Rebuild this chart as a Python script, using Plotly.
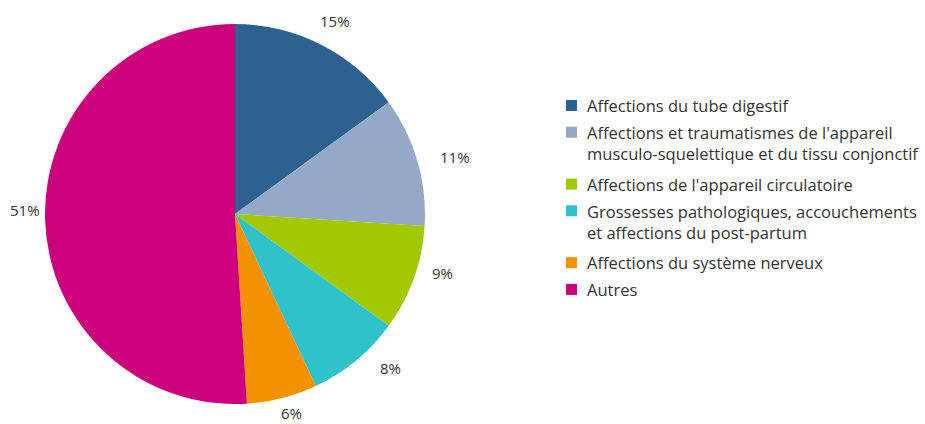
import math
import plotly.graph_objects as go

# Share of cases by diagnostic group
categories = [
    "Affections du tube digestif",
    "Affections et traumatismes de l'appareil<br>musculo-squelettique et du tissu conjonctif",
    "Affections de l'appareil circulatoire",
    "Grossesses pathologiques, accouchements<br>et affections du post-partum",
    "Affections du système nerveux",
    "Autres",
]
shares = [15, 11, 9, 8, 6, 51]
pct_labels = ["15%", "11%", "9%", "8%", "6%", "51%"]
colors = ["#2D6290", "#94A9C7", "#A2C800", "#30C2CA", "#F29200", "#CC007A"]

W, H = 925, 424
FONT = "Open Sans"
TEXT_COLOR = "#333333"

# pie placement in pixels
cx, cy, r = 235, 214, 190

# percentage label placement: distance from centre and small angular turn (deg)
label_dist = [217, 227, 216, 219, 207, 210]
label_turn = [0.3, 1.7, -4.0, -5.6, -1.5, 2.9]


def px_to_paper(x, y):
    return x / W, 1 - y / H


fig = go.Figure(
    go.Pie(
        labels=[c.replace("<br>", " ") for c in categories],
        values=shares,
        sort=False,
        direction="clockwise",
        rotation=0,
        textinfo="none",
        hoverinfo="label+percent",
        marker=dict(colors=colors, line=dict(width=0)),
        domain=dict(x=[(cx - r) / W, (cx + r) / W],
                    y=[1 - (cy + r) / H, 1 - (cy - r) / H]),
        showlegend=False,
    )
)

annotations = []
shapes = []

# percentage labels outside each slice, around its mid-angle
total = sum(shares)
cum = 0
for v, txt, d, t in zip(shares, pct_labels, label_dist, label_turn):
    mid = math.radians((cum + v / 2) / total * 360 + t)
    cum += v
    x, y = px_to_paper(cx + d * math.sin(mid), cy - d * math.cos(mid))
    annotations.append(dict(
        x=x, y=y, xref="paper", yref="paper",
        text=txt, showarrow=False, xanchor="center", yanchor="middle",
        font=dict(family=FONT, size=15, color=TEXT_COLOR),
    ))

# legend: colour square + label, entries stacked down the right side
LEG_FS = 16.5
sq_left, sq_size = 566, 11
text_left = 585
row_y = 105.5          # centre of the first square
row_step = 26.7        # step for a one-line entry
extra_line = 25.2      # additional step per wrapped line
line_h = 1.3 * LEG_FS

for cat, col in zip(categories, colors):
    x0, y0 = px_to_paper(sq_left, row_y - sq_size / 2)
    x1, y1 = px_to_paper(sq_left + sq_size, row_y + sq_size / 2)
    shapes.append(dict(type="rect", xref="paper", yref="paper",
                       x0=x0, x1=x1, y0=y1, y1=y0,
                       fillcolor=col, line=dict(width=0)))
    tx, ty = px_to_paper(text_left, row_y - line_h / 2 - 2.5)
    annotations.append(dict(
        x=tx, y=ty, xref="paper", yref="paper",
        text=cat, showarrow=False, xanchor="left", yanchor="top", align="left",
        font=dict(family=FONT, size=LEG_FS, color=TEXT_COLOR),
    ))
    n_lines = cat.count("<br>") + 1
    row_y += row_step + (n_lines - 1) * extra_line

fig.update_layout(
    width=W, height=H,
    margin=dict(l=0, r=0, t=0, b=0),
    paper_bgcolor="white",
    plot_bgcolor="white",
    font=dict(family=FONT, size=15, color=TEXT_COLOR),
    showlegend=False,
    annotations=annotations,
    shapes=shapes,
)

fig.write_html("out.html")
